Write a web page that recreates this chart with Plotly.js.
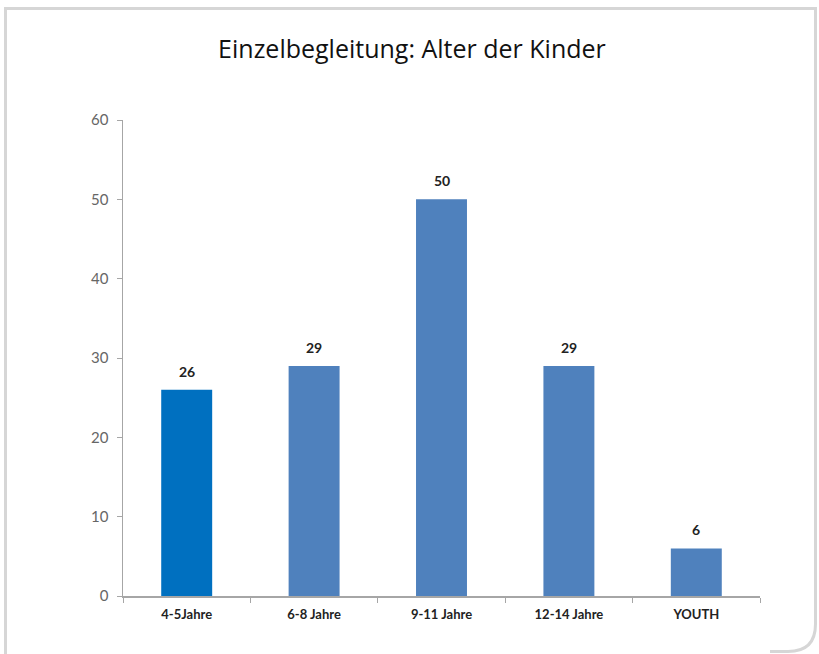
<!DOCTYPE html>
<html>
<head>
<meta charset="utf-8">
<script src="https://cdn.plot.ly/plotly-3.0.1.min.js"></script>
<style>
  html, body { margin: 0; padding: 0; background: #ffffff; }
  #wrap { position: relative; width: 819px; height: 654px; }
  #chart { position: absolute; left: 0; top: 0; width: 819px; height: 654px; }
  #frame { position: absolute; left: 0; top: 0; pointer-events: none; }
</style>
</head>
<body>
<div id="wrap">
  <div id="chart"></div>
  <svg id="frame" width="819" height="654">
    <path d="M 5.5 654 L 5.5 8.5 L 815.5 8.5 L 815.5 624 Q 815.5 651.5 788 651.5 L 770 651.5" fill="none" stroke="#d6d6d6" stroke-width="3"/>
  </svg>
</div>
<script>
const categories = ["4-5Jahre", "6-8 Jahre", "9-11 Jahre", "12-14 Jahre", "YOUTH"];
const values = [26, 29, 50, 29, 6];
const barColors = ["#0070c0", "#4f81bd", "#4f81bd", "#4f81bd", "#4f81bd"];
const yTicks = [0, 10, 20, 30, 40, 50, 60];

const trace = {
  type: "bar",
  x: categories,
  y: values,
  marker: { color: barColors },
  hoverinfo: "none"
};

const labelAnnotations = categories.map((c, i) => ({
  x: c,
  y: values[i],
  xref: "x",
  yref: "y",
  text: String(values[i]),
  showarrow: false,
  yanchor: "bottom",
  yshift: 8,
  font: { family: "Lato, 'DejaVu Sans', sans-serif", size: 14, color: "#222222", weight: 700 }
}));

const layout = {
  width: 819,
  height: 654,
  paper_bgcolor: "rgba(0,0,0,0)",
  plot_bgcolor: "#ffffff",
  margin: { l: 123, r: 59, t: 120, b: 58 },
  bargap: 0.6,
  showlegend: false,
  annotations: labelAnnotations,
  title: {
    text: "Einzelbegleitung: Alter der Kinder",
    font: { family: "'Open Sans', sans-serif", size: 25, color: "#111111" },
    x: 0.503,
    xanchor: "center",
    y: 0.924,
    yanchor: "middle"
  },
  xaxis: {
    type: "category",
    showline: true,
    linecolor: "#a6a6a6",
    linewidth: 1.5,
    ticks: "outside",
    tickson: "boundaries",
    ticklen: 5,
    tickcolor: "#a6a6a6",
    showgrid: false,
    ticklabelstandoff: 6,
    tickfont: { family: "Lato, 'DejaVu Sans', sans-serif", size: 13, color: "#222222", weight: 700 }
  },
  yaxis: {
    range: [0, 60],
    tickvals: yTicks,
    showline: true,
    linecolor: "#a6a6a6",
    linewidth: 1.5,
    ticks: "outside",
    ticklen: 5,
    tickcolor: "#a6a6a6",
    showgrid: false,
    zeroline: false,
    ticklabelstandoff: 5,
    tickfont: { family: "Lato, 'DejaVu Sans', sans-serif", size: 15, color: "#666666" }
  }
};

Plotly.newPlot("chart", [trace], layout, { displayModeBar: false, staticPlot: true });
</script>
</body>
</html>
